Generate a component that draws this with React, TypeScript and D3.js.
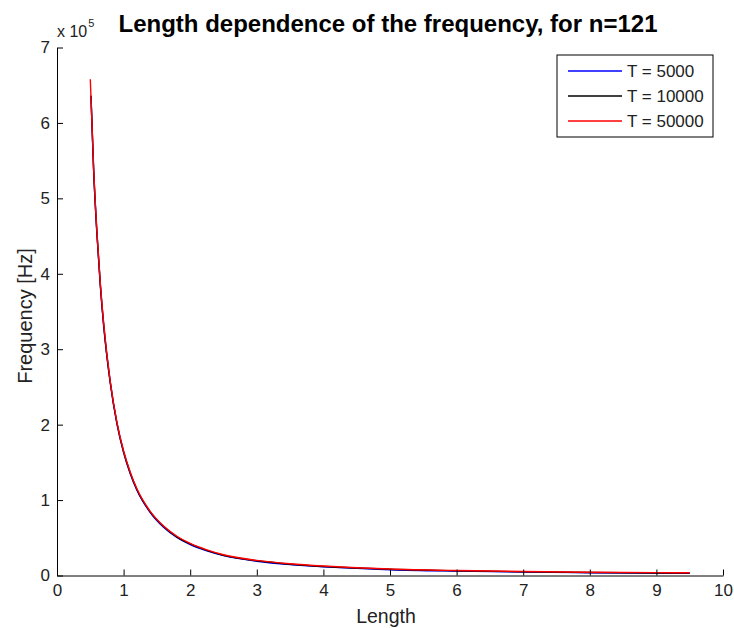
import React, { useEffect, useRef } from "react";
import * as d3 from "d3";

// Length values
const lengthRed = [0.5, 0.55, 0.6, 0.65, 0.7, 0.8, 0.9, 1.0, 1.1, 1.2, 1.4, 1.6, 1.8, 2.0, 2.25, 2.5, 3.0, 3.5, 4.0, 4.5, 5.0, 6.0, 7.0, 8.0, 9.0, 9.5];
const freqT50000 = [658000, 540000, 455000, 388000, 335000, 257000, 203000, 165000, 137000, 115000, 85000, 65500, 52000, 42500, 34000, 27500, 20000, 15500, 12500, 10300, 8600, 6600, 5300, 4400, 3800, 3600];

const lengthOther = [0.51, 0.55, 0.6, 0.65, 0.7, 0.8, 0.9, 1.0, 1.1, 1.2, 1.4, 1.6, 1.8, 2.0, 2.25, 2.5, 3.0, 3.5, 4.0, 4.5, 5.0, 6.0, 7.0, 8.0, 9.0, 9.5];
const freqT10000 = [636000, 538000, 453000, 386000, 333000, 256000, 202000, 164000, 136000, 114000, 84300, 65000, 51300, 41800, 33300, 26900, 19500, 15000, 12000, 9900, 8200, 6200, 4900, 4000, 3400, 3200];
const freqT5000 = [636000, 537000, 452000, 385000, 332000, 255000, 201000, 163000, 135000, 113000, 83500, 64000, 50500, 41000, 32600, 26300, 18900, 14400, 11500, 9400, 7700, 5800, 4500, 3700, 3100, 2900];

const series = [
  { label: "T = 5000", color: "#0000ff", xs: lengthOther, ys: freqT5000 },
  { label: "T = 10000", color: "#000000", xs: lengthOther, ys: freqT10000 },
  { label: "T = 50000", color: "#ff0000", xs: lengthRed, ys: freqT50000 },
];

const xTicks = [0, 1, 2, 3, 4, 5, 6, 7, 8, 9, 10];
const yTicks = [0, 1, 2, 3, 4, 5, 6, 7];

export default function App() {
  const svgRef = useRef<SVGSVGElement>(null);

  useEffect(() => {
    const svg = d3.select(svgRef.current);
    const width = 734;
    const height = 628;
    const margin = { top: 47.5, right: 11, bottom: 52.5, left: 57 };
    const font = "'Liberation Sans', Arial, sans-serif";

    svg.attr("width", width).attr("height", height);
    svg.selectAll("*").remove();

    const x = d3.scaleLinear().domain([0, 10]).range([margin.left, width - margin.right]);
    const y = d3.scaleLinear().domain([0, 700000]).range([height - margin.bottom, margin.top]);

    // lines
    series.forEach((s) => {
      const line = d3
        .line<number>()
        .x((_, i) => x(s.xs[i]))
        .y((d) => y(d))
        .curve(d3.curveMonotoneX);
      svg
        .append("path")
        .attr("d", line(s.ys))
        .attr("fill", "none")
        .attr("stroke", s.color)
        .attr("stroke-width", 1.4);
    });

    // x axis
    const xAxis = svg
      .append("g")
      .attr("transform", `translate(0,${y(0)})`)
      .call(d3.axisBottom(x).tickValues(xTicks).tickSizeInner(-6).tickSizeOuter(0).tickPadding(8));
    xAxis.select(".domain").attr("stroke", "#000");
    xAxis.selectAll("line").attr("stroke", "#000");
    xAxis.selectAll("text").style("font-family", font).style("font-size", "17px").attr("fill", "#222");

    // y axis
    const yAxis = svg
      .append("g")
      .attr("transform", `translate(${x(0)},0)`)
      .call(
        d3
          .axisLeft(y)
          .tickValues(yTicks.map((d) => d * 100000))
          .tickFormat((d) => String(+d / 100000))
          .tickSizeInner(-6)
          .tickSizeOuter(0)
          .tickPadding(7)
      );
    yAxis.select(".domain").attr("stroke", "#000");
    yAxis.selectAll("line").attr("stroke", "#000");
    yAxis.selectAll("text").style("font-family", font).style("font-size", "17px").attr("fill", "#222");

    // exponent
    const expo = svg.append("text").attr("x", 57).attr("y", 37).style("font-family", font).style("font-size", "16px").attr("fill", "#222");
    expo.append("tspan").text("x 10");
    expo.append("tspan").attr("dy", -10).attr("dx", 1).style("font-size", "11px").text("5");

    // title
    svg
      .append("text")
      .attr("x", 388)
      .attr("y", 32)
      .attr("text-anchor", "middle")
      .style("font-family", font)
      .style("font-size", "24px")
      .style("font-weight", "bold")
      .attr("fill", "#000")
      .text("Length dependence of the frequency, for n=121");

    // axis labels
    svg
      .append("text")
      .attr("x", 386)
      .attr("y", 623)
      .attr("text-anchor", "middle")
      .style("font-family", font)
      .style("font-size", "19.5px")
      .attr("fill", "#222")
      .text("Length");
    svg
      .append("text")
      .attr("transform", `translate(32,316) rotate(-90)`)
      .attr("text-anchor", "middle")
      .style("font-family", font)
      .style("font-size", "20px")
      .attr("fill", "#222")
      .text("Frequency [Hz]");

    // legend
    const legend = svg.append("g").attr("transform", "translate(557,55)");
    legend.append("rect").attr("width", 156).attr("height", 82).attr("fill", "#fff").attr("stroke", "#000");
    series.forEach((s, i) => {
      const ly = 16 + i * 25;
      legend.append("line").attr("x1", 11).attr("x2", 65).attr("y1", ly).attr("y2", ly).attr("stroke", s.color).attr("stroke-width", 1.4);
      legend
        .append("text")
        .attr("x", 70)
        .attr("y", ly + 6)
        .style("font-family", font)
        .style("font-size", "17px")
        .attr("fill", "#222")
        .text(s.label);
    });
  }, []);

  return <svg ref={svgRef} style={{ position: "absolute", left: 0, top: 0 }}></svg>;
}
